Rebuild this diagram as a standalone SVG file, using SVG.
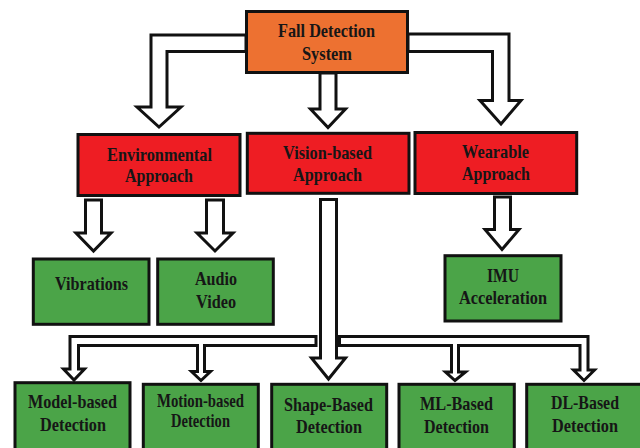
<svg xmlns="http://www.w3.org/2000/svg" width="640" height="448" viewBox="0 0 640 448">
<style>
.box{stroke:#111;stroke-width:3}
.root{fill:#ED7131}
.red{fill:#EE1D23}
.grn{fill:#4BA448}
.arr{fill:#fff;stroke:#111;stroke-width:3;stroke-linejoin:miter}
text{font-family:"Liberation Serif","Times New Roman",serif;font-weight:bold;font-size:19px;fill:#161616;text-anchor:middle}
</style>
<rect width="640" height="448" fill="#fff"/>
<g id="connectors">
<path class="arr" d="M246,35 H151 V107 H137 L159,127 L181,107 H167 V51.5 H246 Z"/>
<path class="arr" d="M320,73 H336 V109 H345.5 L328,127.5 L310.5,109 H320 Z"/>
<path class="arr" d="M408,34 H509 V100.5 H521 L501,124 L480,100.5 H492.5 V51.5 H408 Z"/>
<path class="arr" d="M85.5,200 H101.5 V233 H111 L93.5,251 L76,233 H85.5 Z"/>
<path class="arr" d="M206.5,200 H223.5 V233 H233 L215,251 L197,233 H206.5 Z"/>
<path class="arr" d="M494.5,197 H510.5 V229.5 H519 L502,249.5 L485,229.5 H494.5 Z"/>
<path class="arr" d="M316,336.5 H70 V369 H63.5 L74,380 L84.5,369 H78.5 V345.5 H197.5 V371.5 H191.5 L201,380.5 L210.5,371.5 H204.5 V345.5 H316 Z"/>
<path class="arr" d="M339.5,336.5 H588 V370 H594.5 L584,380.5 L573.5,370 H580 V345.5 H458.5 V372 H465.5 L455,380.5 L445.5,372 H451.5 V345.5 H339.5 Z"/>
<path class="arr" d="M320.5,199.5 H336.5 V358 H345.5 L328.5,379 L311.5,358 H320.5 Z"/>
</g>
<g id="fall-detection-system">
<rect class="box root" x="246.5" y="11.5" width="161" height="61"/>
<text x="326.5" y="37" textLength="97" lengthAdjust="spacingAndGlyphs">Fall Detection</text>
<text x="327" y="60" textLength="50" lengthAdjust="spacingAndGlyphs">System</text>
</g>
<g id="environmental">
<rect class="box red" x="78" y="134.5" width="162" height="61"/>
<text x="159.5" y="161" textLength="105" lengthAdjust="spacingAndGlyphs">Environmental</text>
<text x="159" y="182" textLength="68" lengthAdjust="spacingAndGlyphs">Approach</text>
</g>
<g id="vision">
<rect class="box red" x="247.3" y="133.3" width="161.7" height="60"/>
<text x="327.5" y="159" textLength="89" lengthAdjust="spacingAndGlyphs">Vision-based</text>
<text x="327.5" y="181" textLength="69" lengthAdjust="spacingAndGlyphs">Approach</text>
</g>
<g id="wearable">
<rect class="box red" x="415" y="132.5" width="161.7" height="61"/>
<text x="495.5" y="158" textLength="67" lengthAdjust="spacingAndGlyphs">Wearable</text>
<text x="496" y="180" textLength="68" lengthAdjust="spacingAndGlyphs">Approach</text>
</g>
<g id="vibrations">
<rect class="box grn" x="33.3" y="259" width="115.7" height="65.3"/>
<text x="91.5" y="290" textLength="73" lengthAdjust="spacingAndGlyphs">Vibrations</text>
</g>
<g id="audio-video">
<rect class="box grn" x="157.7" y="259" width="115.6" height="65.3"/>
<text x="216" y="285" textLength="42" lengthAdjust="spacingAndGlyphs">Audio</text>
<text x="216" y="308" textLength="40" lengthAdjust="spacingAndGlyphs">Video</text>
</g>
<g id="imu">
<rect class="box grn" x="445" y="255.7" width="116" height="65.3"/>
<text x="503" y="282" textLength="32" lengthAdjust="spacingAndGlyphs">IMU</text>
<text x="503" y="304" textLength="88" lengthAdjust="spacingAndGlyphs">Acceleration</text>
</g>
<g id="model-based">
<rect class="box grn" x="15" y="382.7" width="115" height="80"/>
<text x="72.5" y="408" textLength="89" lengthAdjust="spacingAndGlyphs">Model-based</text>
<text x="73" y="431" textLength="66" lengthAdjust="spacingAndGlyphs">Detection</text>
</g>
<g id="motion-based">
<rect class="box grn" x="143.3" y="384.3" width="115" height="80"/>
<text x="200.5" y="407" textLength="87" lengthAdjust="spacingAndGlyphs">Motion-based</text>
<text x="200.5" y="427" textLength="59" lengthAdjust="spacingAndGlyphs">Detection</text>
</g>
<g id="shape-based">
<rect class="box grn" x="271.7" y="384.3" width="115" height="80"/>
<text x="328.5" y="411" textLength="89" lengthAdjust="spacingAndGlyphs">Shape-Based</text>
<text x="329" y="433" textLength="66" lengthAdjust="spacingAndGlyphs">Detection</text>
</g>
<g id="ml-based">
<rect class="box grn" x="399" y="384.3" width="115.3" height="80"/>
<text x="456.5" y="410" textLength="73" lengthAdjust="spacingAndGlyphs">ML-Based</text>
<text x="456.5" y="433" textLength="65" lengthAdjust="spacingAndGlyphs">Detection</text>
</g>
<g id="dl-based">
<rect class="box grn" x="526.7" y="384.3" width="130" height="80"/>
<text x="585" y="409" textLength="68" lengthAdjust="spacingAndGlyphs">DL-Based</text>
<text x="585" y="432" textLength="66" lengthAdjust="spacingAndGlyphs">Detection</text>
</g>
</svg>
